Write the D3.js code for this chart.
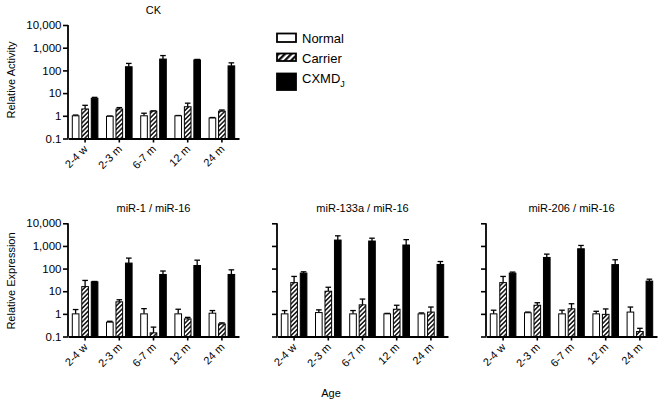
<!DOCTYPE html>
<html>
<head>
<meta charset="utf-8">
<script src="https://cdn.jsdelivr.net/npm/d3@7"></script>
<style>
  html, body { margin: 0; padding: 0; background: #fff; }
  svg { display: block; font-family: "Liberation Sans", Arial, sans-serif; }
</style>
</head>
<body>
<svg id="chart" width="662" height="403"></svg>
<script>
// ---- Data ----
const categories = ["2-4 w", "2-3 m", "6-7 m", "12 m", "24 m"];
const seriesNames = ["Normal", "Carrier", "CXMD"];
const yTickValues = [0.1, 1, 10, 100, 1000, 10000];
const yTickLabels = ["0.1", "1", "10", "100", "1,000", "10,000"];

// CK (Relative Activity)
const ckNormal = [1.0, 0.95, 1.0, 1.0, 0.8];
const ckNormalErr = [1.08, 0.98, 1.3, 1.03, 0.84];
const ckCarrier = [2.0, 2.0, 1.6, 2.5, 1.6];
const ckCarrierErr = [2.9, 2.3, 1.65, 3.6, 1.8];
const ckCxmd = [5.9, 145, 316, 290, 158];
const ckCxmdErr = [6.5, 203, 450, 305, 215];

// miR-1 / miR-16
const mir1Normal = [1.0, 0.43, 1.0, 1.0, 1.07];
const mir1NormalErr = [1.55, 0.47, 1.7, 1.6, 1.4];
const mir1Carrier = [16, 3.4, 0.145, 0.6, 0.36];
const mir1CarrierErr = [30, 4.2, 0.26, 0.7, 0.4];
const mir1Cxmd = [26, 175, 55, 137, 55];
const mir1CxmdErr = [27, 290, 78, 235, 88];

// miR-133a / miR-16
const mir133Normal = [1.0, 1.14, 1.0, 1.0, 1.0];
const mir133NormalErr = [1.4, 1.5, 1.4, 1.05, 1.1];
const mir133Carrier = [24, 10, 2.5, 1.6, 1.2];
const mir133CarrierErr = [45, 15, 4.5, 2.4, 2.0];
const mir133Cxmd = [63, 1820, 1650, 1100, 152];
const mir133CxmdErr = [72, 2800, 2200, 1900, 205];

// miR-206 / miR-16
const mir206Normal = [1.0, 1.12, 1.0, 1.0, 1.2];
const mir206NormalErr = [1.45, 1.2, 1.45, 1.3, 2.0];
const mir206Carrier = [24, 2.4, 1.67, 0.95, 0.165];
const mir206CarrierErr = [45, 3.1, 2.8, 1.65, 0.23];
const mir206Cxmd = [63, 310, 750, 150, 28];
const mir206CxmdErr = [70, 435, 1050, 245, 34];

// ---- Panels ----
const panels = [
  { title: "CK", x: 68, top: 25, bottom: 138.5, labels: true,
    vals: [ckNormal, ckCarrier, ckCxmd], errs: [ckNormalErr, ckCarrierErr, ckCxmdErr] },
  { title: "miR-1 / miR-16", x: 68, top: 223.3, bottom: 336.5, labels: true,
    vals: [mir1Normal, mir1Carrier, mir1Cxmd], errs: [mir1NormalErr, mir1CarrierErr, mir1CxmdErr] },
  { title: "miR-133a / miR-16", x: 277, top: 223.3, bottom: 336.5, labels: false,
    vals: [mir133Normal, mir133Carrier, mir133Cxmd], errs: [mir133NormalErr, mir133CarrierErr, mir133CxmdErr] },
  { title: "miR-206 / miR-16", x: 486, top: 223.3, bottom: 336.5, labels: false,
    vals: [mir206Normal, mir206Carrier, mir206Cxmd], errs: [mir206NormalErr, mir206CarrierErr, mir206CxmdErr] }
];
const panelWidth = 171;

const svg = d3.select("#chart");

// hatch pattern
const defs = svg.append("defs");
defs.append("pattern")
  .attr("id", "hatch").attr("patternUnits", "userSpaceOnUse")
  .attr("width", 3.2).attr("height", 3.2)
  .attr("patternTransform", "rotate(45)")
  .call(p => {
    p.append("rect").attr("width", 3.2).attr("height", 3.2).attr("fill", "#fff");
    p.append("line").attr("x1", 0.8).attr("y1", 0).attr("x2", 0.8).attr("y2", 3.2)
      .attr("stroke", "#000").attr("stroke-width", 1.4);
  });
defs.append("pattern")
  .attr("id", "hatchL").attr("patternUnits", "userSpaceOnUse")
  .attr("width", 4.5).attr("height", 4.5)
  .attr("patternTransform", "rotate(45)")
  .call(p => {
    p.append("rect").attr("width", 4.5).attr("height", 4.5).attr("fill", "#fff");
    p.append("line").attr("x1", 1.2).attr("y1", 0).attr("x2", 1.2).attr("y2", 4.5)
      .attr("stroke", "#000").attr("stroke-width", 2.2);
  });

const fills = ["#fff", "url(#hatch)", "#000"];

panels.forEach(pn => {
  const g = svg.append("g").attr("transform", `translate(${pn.x},0)`);
  const y = d3.scaleLog().domain([0.1, 10000]).range([pn.bottom, pn.top]);
  const x0 = d3.scaleBand().domain(categories).range([0, panelWidth]).padding(0);
  const c = x0.bandwidth() / 2;
  const x1 = d3.scaleBand().domain(seriesNames).range([c - 12.8, c + 12.8])
    .paddingInner(0.3).paddingOuter(0);

  // bars
  seriesNames.forEach((s, si) => {
    const vals = pn.vals[si], errs = pn.errs[si];
    const grp = g.append("g");
    categories.forEach((cat, ci) => {
      const bx = x0(cat) + x1(s);
      const bw = x1.bandwidth();
      // error bar
      grp.append("line")
        .attr("x1", bx + bw / 2).attr("x2", bx + bw / 2)
        .attr("y1", y(vals[ci])).attr("y2", y(errs[ci]))
        .attr("stroke", "#000").attr("stroke-width", 1.3);
      grp.append("line")
        .attr("x1", bx + bw / 2 - 2.8).attr("x2", bx + bw / 2 + 2.8)
        .attr("y1", y(errs[ci])).attr("y2", y(errs[ci]))
        .attr("stroke", "#000").attr("stroke-width", 1.3);
      grp.append("rect")
        .attr("x", bx).attr("width", bw)
        .attr("y", y(vals[ci])).attr("height", pn.bottom - y(vals[ci]))
        .attr("fill", fills[si]).attr("stroke", "#000").attr("stroke-width", 1);
    });
  });

  // y axis
  const yAxis = d3.axisLeft(y).tickValues(yTickValues).tickSize(5).tickPadding(1.5)
    .tickFormat((d, i) => pn.labels ? yTickLabels[i] : "");
  const ya = g.append("g").call(yAxis);
  ya.select(".domain").attr("d", `M0,${pn.bottom}V${pn.top}`).attr("stroke-width", 1.8);
  ya.selectAll(".tick line").attr("stroke-width", 1.6);
  ya.selectAll("text").attr("font-size", 11.5).attr("fill", "#000")
    .attr("font-family", "Liberation Sans, Arial, sans-serif");

  // x axis
  const xAxis = d3.axisBottom(x0).tickSize(4).tickSizeOuter(0).tickPadding(2);
  const xa = g.append("g").attr("transform", `translate(0,${pn.bottom})`).call(xAxis);
  xa.select(".domain").attr("stroke-width", 1.8);
  xa.selectAll(".tick line").attr("stroke-width", 1.6);
  xa.selectAll("text")
    .attr("font-size", 11).attr("fill", "#000")
    .attr("font-family", "Liberation Sans, Arial, sans-serif")
    .attr("text-anchor", "end")
    .attr("dy", "0.3em")
    .attr("transform", "translate(1,9) rotate(-45)")
    .attr("y", 0).attr("x", 0);

  // title
  g.append("text").attr("x", panelWidth / 2).attr("y", pn.top - 11.5)
    .attr("text-anchor", "middle").attr("font-size", 11).text(pn.title);
});

// axis titles
svg.append("text").attr("transform", "translate(14.5,80) rotate(-90)")
  .attr("text-anchor", "middle").attr("font-size", 11).text("Relative Activity");
svg.append("text").attr("transform", "translate(14.5,281) rotate(-90)")
  .attr("text-anchor", "middle").attr("font-size", 11).text("Relative Expression");
svg.append("text").attr("x", 331).attr("y", 397)
  .attr("text-anchor", "middle").attr("font-size", 11).text("Age");

// legend
const legend = svg.append("g");
const legendBoxes = [
  { y: 33.5, h: 8.5, fill: "#fff" },
  { y: 53.5, h: 7.5, fill: "url(#hatchL)" },
  { y: 73.5, h: 16.5, fill: "#000" }
];
seriesNames.forEach((s, i) => {
  const b = legendBoxes[i];
  legend.append("rect").attr("x", 277).attr("y", b.y).attr("width", 19).attr("height", b.h)
    .attr("fill", b.fill).attr("stroke", "#000").attr("stroke-width", 1.8);
});
legend.append("text").attr("x", 302).attr("y", 42.5).attr("font-size", 13).text("Normal");
legend.append("text").attr("x", 302).attr("y", 62.5).attr("font-size", 13).text("Carrier");
const cx = legend.append("text").attr("x", 302).attr("y", 83).attr("font-size", 13);
cx.append("tspan").text("CXMD");
cx.append("tspan").attr("font-size", 9).attr("dy", 4).text("J");
</script>
</body>
</html>
